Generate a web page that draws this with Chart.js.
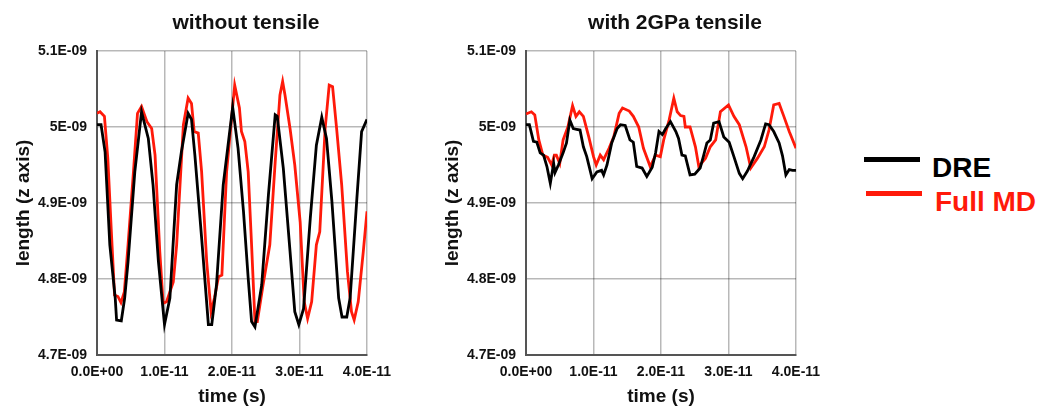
<!DOCTYPE html>
<html>
<head>
<meta charset="utf-8">
<script src="https://cdn.jsdelivr.net/npm/chart.js"></script>
<style>
  body { margin: 0; background: #fff; }
  #page { position: relative; width: 1044px; height: 407px; overflow: hidden; }
  canvas { position: absolute; top: 0; }
  .titulo { position: absolute; top: 9px; width: 300px; text-align: center; font: bold 21px "Liberation Sans", Arial, sans-serif; line-height: 26px; color: #111; }
  .key { position: absolute; height: 5px; width: 56px; }
  .keytxt { position: absolute; font: bold 28px "Liberation Sans", Arial, sans-serif; line-height: 28px; white-space: nowrap; }
</style>
</head>
<body>
<div id="page">
  <canvas id="izq" width="420" height="407" style="left:0px"></canvas>
  <canvas id="der" width="420" height="407" style="left:429px"></canvas>
  <div class="titulo" style="left:96px">without tensile</div>
  <div class="titulo" style="left:525px">with 2GPa tensile</div>
  <div class="key" style="left:864px; top:157px; background:#000"></div>
  <div class="keytxt" style="left:932px; top:154px; color:#000">DRE</div>
  <div class="key" style="left:866px; top:191px; background:#ff1a0a"></div>
  <div class="keytxt" style="left:935px; top:188px; color:#ff1a0a">Full MD</div>
</div>
<script>
// tiempo en ps (1E-12 s), longitud en nm (1E-9 m)
const xTickVals = [0, 10, 20, 30, 40];
const xTickLabels = ['0.0E+00', '1.0E-11', '2.0E-11', '3.0E-11', '4.0E-11'];
const yTickVals = [4.7, 4.8, 4.9, 5.0, 5.1];
const yTickLabels = ['4.7E-09', '4.8E-09', '4.9E-09', '5E-09', '5.1E-09'];

//Sin tension - DRE
const izqDreT = [0, 0.6, 1.2, 1.9, 2.7, 2.9, 3.6, 4.1, 4.6, 5.6, 6.6, 7.6, 8.3, 9.1, 10.0, 10.8, 11.8, 12.5, 13.5, 14.0,
  14.5, 15.5, 16.5, 17.0, 17.7, 18.7, 20.1, 20.9, 21.7, 22.4, 22.9, 23.4, 24.4, 25.4, 26.4, 26.7, 27.6, 28.6, 29.3, 29.9,
  30.6, 31.6, 32.5, 33.3, 34.0, 34.8, 35.8, 36.3, 37.0, 37.5, 38.5, 39.2, 40.0];
const izqDreL = [5.003, 5.003, 4.967, 4.845, 4.775, 4.746, 4.745, 4.775, 4.823, 4.941, 5.020, 4.985, 4.924, 4.823, 4.740, 4.775, 4.924, 4.967, 5.018, 5.010,
  4.963, 4.854, 4.740, 4.740, 4.792, 4.924, 5.026, 4.972, 4.889, 4.801, 4.744, 4.737, 4.792, 4.911, 5.016, 5.014, 4.946, 4.836, 4.757, 4.740,
  4.761, 4.880, 4.976, 5.013, 4.985, 4.902, 4.775, 4.750, 4.750, 4.775, 4.906, 4.994, 5.010];

//Sin tension - Full MD
const izqMdT = [0, 0.45, 1.1, 1.6, 2.1, 2.6, 3.1, 3.55, 4.05, 4.6, 5.4, 6.0, 6.6, 7.4, 8.1, 8.6, 9.3, 9.8, 10.3, 11.3,
  11.8, 12.8, 13.5, 14.0, 14.4, 15.0, 15.5, 16.25, 16.9, 17.4, 18.0, 18.5, 19.2, 20.4, 21.1, 21.4, 21.9, 22.4, 22.9, 23.4,
  23.75, 24.6, 25.6, 26.4, 27.1, 27.5, 27.85, 28.6, 29.3, 30.1, 30.7, 31.2, 31.8, 32.5, 33.0, 33.8, 34.4, 34.9, 35.5, 36.25,
  37.1, 37.7, 38.1, 38.7, 39.45, 40.0];
const izqMdL = [5.018, 5.020, 5.014, 4.959, 4.867, 4.779, 4.777, 4.769, 4.783, 4.845, 4.941, 5.018, 5.027, 5.007, 4.998, 4.963, 4.836, 4.768, 4.770, 4.796,
  4.845, 5.003, 5.038, 5.031, 4.994, 4.992, 4.941, 4.823, 4.757, 4.775, 4.803, 4.805, 4.941, 5.055, 5.025, 4.994, 4.981, 4.941, 4.845, 4.744,
  4.744, 4.792, 4.845, 4.954, 5.042, 5.060, 5.042, 4.998, 4.950, 4.875, 4.770, 4.748, 4.770, 4.845, 4.862, 4.998, 5.055, 5.053, 4.998, 4.924,
  4.810, 4.757, 4.746, 4.770, 4.836, 4.889];

//Con 2GPa - DRE
const derDreT = [0, 0.5, 1.1, 1.6, 2.1, 2.6, 3.1, 3.6, 4.1, 4.3, 4.8, 5.5, 6.0, 6.5, 7.0, 7.5, 8.0, 8.5, 9.0, 9.8,
  10.5, 11.2, 11.5, 12.0, 12.7, 13.5, 14.0, 14.7, 15.4, 15.9, 16.4, 17.2, 17.9, 18.7, 19.2, 19.7, 20.2, 20.7, 21.4, 22.2,
  22.6, 23.1, 23.6, 24.3, 25.0, 25.8, 26.3, 26.8, 27.3, 27.8, 28.6, 29.3, 30.1, 30.8, 31.6, 32.1, 32.8, 33.8, 34.8, 35.5,
  36.0, 36.7, 37.5, 38.0, 38.5, 39.0, 39.5, 40.0];
const derDreL = [5.003, 5.003, 4.981, 4.980, 4.966, 4.963, 4.948, 4.926, 4.952, 4.940, 4.950, 4.966, 4.979, 5.009, 4.998, 4.997, 4.996, 4.974, 4.961, 4.932,
  4.941, 4.943, 4.937, 4.950, 4.979, 4.998, 5.003, 5.002, 4.983, 4.980, 4.948, 4.946, 4.935, 4.947, 4.966, 4.994, 4.990, 4.998, 5.007, 4.994,
  4.985, 4.963, 4.962, 4.937, 4.938, 4.946, 4.962, 4.979, 4.983, 5.005, 5.007, 4.987, 4.980, 4.961, 4.939, 4.932, 4.942, 4.961, 4.983, 5.004,
  5.003, 4.994, 4.979, 4.962, 4.937, 4.944, 4.943, 4.943];

//Con 2GPa - Full MD
const derMdT = [0, 0.8, 1.3, 1.9, 2.5, 3.2, 3.8, 4.2, 4.5, 5.0, 5.5, 6.2, 6.9, 7.4, 7.9, 8.5, 9.3, 10.0, 10.4, 11.0,
  11.5, 12.3, 13.0, 13.8, 14.3, 15.3, 15.9, 16.7, 17.4, 18.4, 19.2, 19.9, 20.4, 21.2, 21.9, 22.4, 22.9, 23.4, 23.6, 24.3,
  25.1, 25.6, 26.6, 27.3, 28.1, 28.8, 30.0, 30.8, 31.6, 32.6, 33.3, 34.3, 35.3, 36.0, 36.7, 37.5, 38.2, 39.0, 40.0];
const derMdL = [5.017, 5.020, 5.016, 4.983, 4.963, 4.960, 4.950, 4.963, 4.963, 4.952, 4.983, 5.000, 5.028, 5.014, 5.020, 5.014, 4.987, 4.961, 4.950, 4.963,
  4.957, 4.972, 4.987, 5.018, 5.025, 5.021, 5.014, 5.000, 4.972, 4.948, 4.963, 4.961, 4.983, 5.009, 5.038, 5.020, 5.015, 5.014, 5.000, 5.000,
  4.974, 4.948, 4.959, 4.974, 4.983, 5.020, 5.029, 5.014, 5.003, 4.974, 4.946, 4.959, 4.974, 4.996, 5.029, 5.031, 5.014, 4.994, 4.972];

Chart.defaults.font.family = '"Liberation Sans", Arial, sans-serif';
Chart.defaults.color = '#111';

const puntos = (t, l) => t.map((v, i) => ({ x: v, y: l[i] }));

function grafica(id, dreT, dreL, mdT, mdL) {
  return new Chart(document.getElementById(id), {
    type: 'line',
    data: {
      datasets: [
        { label: 'DRE', data: puntos(dreT, dreL), borderColor: '#000', borderWidth: 2.8, pointRadius: 0, tension: 0 },
        { label: 'Full MD', data: puntos(mdT, mdL), borderColor: '#ff1a0a', borderWidth: 2.8, pointRadius: 0, tension: 0 }
      ]
    },
    options: {
      responsive: false,
      animation: false,
      devicePixelRatio: 1,
      layout: { padding: { left: 0, right: 53, top: 51, bottom: 0 } },
      plugins: {
        legend: { display: false },
        tooltip: { enabled: false }
      },
      scales: {
        x: {
          type: 'linear', min: 0, max: 40,
          afterBuildTicks: s => { s.ticks = xTickVals.map(v => ({ value: v })); },
          afterFit: s => { s.height = 52; },
          ticks: { callback: (v, i) => xTickLabels[i], font: { size: 14, weight: 'bold' }, color: '#111', padding: 9, maxRotation: 0 },
          grid: { color: 'rgba(0,0,0,0.28)', lineWidth: 1.5, drawTicks: false },
          border: { color: '#555', width: 2 },
          title: { display: true, text: 'time (s)', font: { size: 19, weight: 'bold' }, color: '#111', padding: { top: 0, bottom: -1 } }
        },
        y: {
          type: 'linear', min: 4.7, max: 5.1,
          afterBuildTicks: s => { s.ticks = yTickVals.map(v => ({ value: v })); },
          afterFit: s => { s.width = 97; },
          ticks: { callback: (v, i) => yTickLabels[i], font: { size: 14, weight: 'bold' }, color: '#111', padding: 10 },
          grid: { color: 'rgba(0,0,0,0.28)', lineWidth: 1.5, drawTicks: false },
          border: { color: '#555', width: 2 },
          title: { display: true, text: 'length (z axis)', font: { size: 19, weight: 'bold' }, color: '#111', padding: { top: 12, bottom: 0 } }
        }
      }
    }
  });
}

grafica('izq', izqDreT, izqDreL, izqMdT, izqMdL);
grafica('der', derDreT, derDreL, derMdT, derMdL);
</script>
</body>
</html>
